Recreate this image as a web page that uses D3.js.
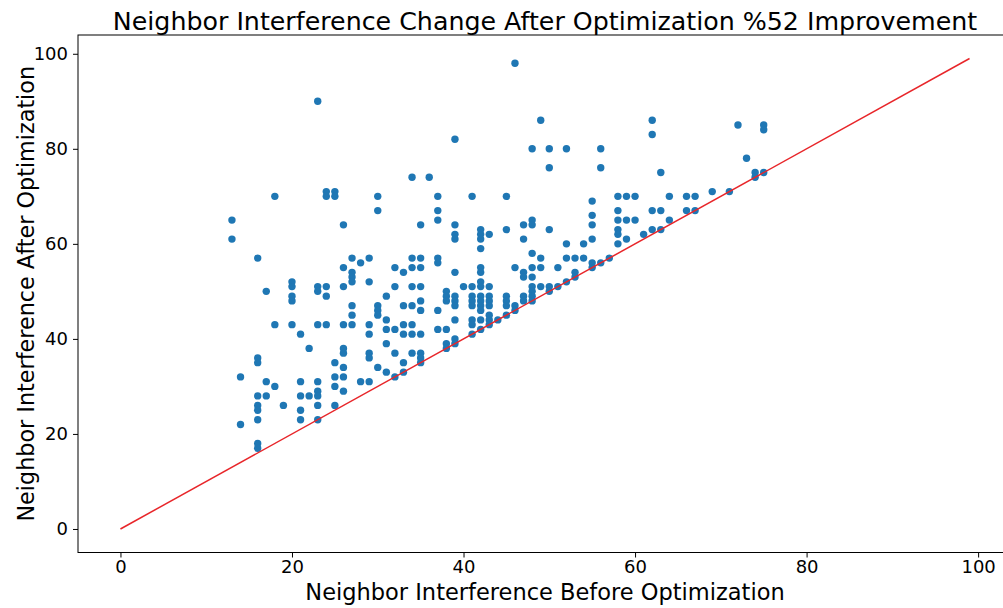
<!DOCTYPE html>
<html>
<head>
<meta charset="utf-8">
<script src="https://cdn.jsdelivr.net/npm/d3@7"></script>
<style>
  html, body { margin: 0; padding: 0; background: #fff; }
  svg { display: block; }
  text { font-family: "DejaVu Sans", sans-serif; fill: #000; }
</style>
</head>
<body>
<svg id="chart" width="1003" height="608"></svg>
<script>
// ---- data ----
const titleText = "Neighbor Interference Change After Optimization %52 Improvement";
const xLabel = "Neighbor Interference Before Optimization";
const yLabel = "Neighbor Interference After Optimization";
const xTicks = [0, 20, 40, 60, 80, 100];
const yTicks = [0, 20, 40, 60, 80, 100];
const lineStart = [0, 0];
const lineEnd = [99, 99];

// interference before optimization (x) and after (y), parallel arrays
const beforeValues = [
  13,13, 14,14,
  16,16,16,16,16,16,16,16,16,
  17,17,17, 18,18,18, 19,
  20,20,20,20,20, 21,21,21,21,21, 22,22,
  23,23,23,23,23,23,23,23,23,
  24,24,24,24,24, 25,25,25,25,25,25,
  26,26,26,26,26,26,26,26,26,
  27,27,27,27,27,27,27, 28,28,
  29,29,29,29,29,29,29, 30,30,30,30,30,30,
  31,31,31,31,31, 32,32,32,32,32, 33,33,33,33,33,33,
  34,34,34,34,34,34,34,34,
  35,35,35,35,35,35,35,35,35,35, 36,
  37,37,37,37,37,37,37, 38,38,38,38,38,38,
  39,39,39,39,39,39,39,39,39,39,39, 40,
  41,41,41,41,41,41,41,41,
  42,42,42,42,42,42,42,42,42,42,42,42,42,42,
  43,43,43,43,43,43,43,43, 44,
  45,45,45,45,45,45, 46,46,46,46, 47,47,47,47,47,47,
  48,48,48,48,48,48,48,48,48,48, 49,49,49,49,
  50,50,50,50,50, 51,51, 52,52,52,52, 53,53,53, 54,54,
  55,55,55,55,55,55, 56,56,56, 57,
  58,58,58,58,58,58, 59,59,59, 60,60, 61,
  62,62,62,62, 63,63,63, 64,64, 66,66, 67,67,
  69, 71, 72, 73, 74,74, 75,75,75
];
const afterValues = [
  65,61, 32,22,
  57,36,35,28,26,25,23,18,17,
  50,31,28, 70,43,30, 26,
  52,51,49,48,43, 41,31,28,25,23, 38,28,
  90,51,50,43,31,29,28,26,23,
  71,70,51,49,43, 71,70,35,32,30,26,
  64,55,51,43,38,37,34,32,29,
  57,54,53,52,47,45,43, 56,31,
  57,52,43,41,37,36,31, 70,67,47,46,45,34,
  49,44,42,39,33, 55,51,42,37,32, 54,47,43,41,35,33,
  74,57,55,51,47,43,41,37,
  64,57,55,51,48,46,41,37,36,35, 74,
  70,67,65,57,56,46,42, 50,49,48,42,39,38,
  82,64,62,61,54,49,48,47,44,40,39, 51,
  70,51,49,48,47,44,43,41,
  63,62,61,59,55,54,52,51,49,48,47,46,44,42,
  62,51,49,48,47,45,44,43, 44,
  70,63,49,48,47,45, 98,55,47,46, 64,61,54,53,49,48,
  80,65,64,58,55,53,51,50,49,48, 86,57,55,51,
  80,76,63,51,50, 55,51, 80,60,57,52, 57,54,53, 60,57,
  69,66,64,61,56,55, 80,76,56, 57,
  70,67,65,63,62,60, 70,65,61, 70,65, 62,
  86,83,67,63, 75,67,63, 70,65, 70,67, 70,67,
  71, 71, 85, 78, 75,74, 85,84,75
];

const points = beforeValues.map((b, i) => ({ before: b, after: afterValues[i] }));

// ---- layout ----
const svg = d3.select("#chart");
const W = 1003, H = 608;
const plot = { left: 78, right: 1012, top: 35, bottom: 552.5 };

svg.append("rect").attr("width", W).attr("height", H).attr("fill", "#fff");

const x = d3.scaleLinear().domain([-4.95, 103.95]).range([plot.left, plot.right]);
const y = d3.scaleLinear().domain([-4.95, 103.95]).range([plot.bottom, plot.top]);

// points
svg.append("g")
  .selectAll("circle")
  .data(points)
  .join("circle")
  .attr("cx", d => x(d.before))
  .attr("cy", d => y(d.after))
  .attr("r", 3.7)
  .attr("fill", "#1f77b4");

// reference line y = x
svg.append("line")
  .attr("x1", x(lineStart[0])).attr("y1", y(lineStart[1]))
  .attr("x2", x(lineEnd[0])).attr("y2", y(lineEnd[1]))
  .attr("stroke", "#e8262a")
  .attr("stroke-width", 1.5);

// frame (spines)
svg.append("rect")
  .attr("x", plot.left).attr("y", plot.top)
  .attr("width", plot.right - plot.left).attr("height", plot.bottom - plot.top)
  .attr("fill", "none").attr("stroke", "#000").attr("stroke-width", 1);

// axes
const xAxis = svg.append("g")
  .attr("transform", `translate(0,${plot.bottom})`)
  .call(d3.axisBottom(x).tickValues(xTicks).tickSize(5).tickPadding(3).tickFormat(d3.format("d")));
const yAxis = svg.append("g")
  .attr("transform", `translate(${plot.left},0)`)
  .call(d3.axisLeft(y).tickValues(yTicks).tickSize(5).tickPadding(5).tickFormat(d3.format("d")));
[xAxis, yAxis].forEach(g => {
  g.select(".domain").remove();
  g.selectAll(".tick line").attr("stroke", "#000");
  g.selectAll(".tick text").attr("font-size", 18).attr("font-family", "DejaVu Sans, sans-serif").attr("fill", "#000");
});

// title
svg.append("text")
  .attr("x", (plot.left + plot.right) / 2)
  .attr("y", 30)
  .attr("text-anchor", "middle")
  .attr("font-size", 25.3)
  .text(titleText);

// axis labels
svg.append("text")
  .attr("x", (plot.left + plot.right) / 2)
  .attr("y", 600)
  .attr("text-anchor", "middle")
  .attr("font-size", 22.5)
  .text(xLabel);

svg.append("text")
  .attr("transform", `translate(34,${(plot.top + plot.bottom) / 2}) rotate(-90)`)
  .attr("text-anchor", "middle")
  .attr("font-size", 22.3)
  .text(yLabel);
</script>
</body>
</html>
